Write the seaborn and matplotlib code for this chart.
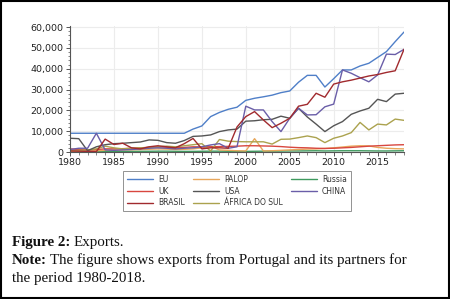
import numpy as np
import pandas as pd
import matplotlib
matplotlib.use("Agg")
import matplotlib.pyplot as plt
import seaborn as sns
from matplotlib.lines import Line2D
from matplotlib.patches import Rectangle
from matplotlib.ticker import MultipleLocator, FuncFormatter

years = list(range(1980, 2019))

EU = [9000, 9000, 9000, 9000, 9000, 9000, 9000, 9000, 9000, 9000, 9000, 9000, 9000, 9000,
      11000, 12500, 17000, 19000, 20500, 21500, 24800, 25800, 26500, 27300, 28500,
      29300, 33500, 36800, 36800, 31200, 35200, 39400, 39400, 41300, 42600,
      45400, 48200, 53000, 57600]
PALOP = [300, 400, 500, 600, 800, 900, 1000, 1100, 1200, 1300, 1500, 1400, 1200, 1300,
         1500, 2000, 2800, 1000, 800, 600, 500, 6400, 500, 600, 800, 1000, 1200, 1400,
         1500, 1700, 2000, 2400, 2800, 3000, 2900, 2200, 1800, 1600, 1500]
RUSSIA = [200, 200, 250, 250, 300, 300, 300, 350, 350, 350, 400, 400, 350, 300, 300,
          350, 400, 400, 350, 300, 300, 350, 400, 400, 450, 500, 500, 550, 600, 500,
          550, 600, 600, 600, 550, 500, 500, 550, 600]
UK = [1500, 1200, 1000, 1200, 1500, 1500, 1600, 1800, 2000, 2200, 2500, 2300, 2000, 2200,
      2500, 2400, 2500, 2600, 2700, 2800, 3000, 3000, 2900, 2800, 2600, 2300, 2100, 2000,
      1800, 1700, 1800, 2000, 2200, 2500, 2800, 3000, 3200, 3400, 3500]
USA = [6600, 6400, 600, 2500, 3500, 4000, 4200, 4500, 4800, 5800, 5600, 4500, 4200, 5500,
       7500, 7700, 8200, 9800, 10600, 11000, 14800, 15000, 15500, 15700, 17200, 16200,
       21000, 16800, 13400, 9800, 12600, 14600, 18100, 19700, 21000, 25300, 24200,
       27800, 28200]
CHINA = [1200, 1800, 1800, 9000, 1000, 800, 1000, 1200, 1500, 1800, 2000, 1800, 1500,
         1800, 2000, 2500, 3400, 4000, 1800, 2500, 22000, 20200, 20200, 14600, 9800,
         16200, 21000, 17800, 17900, 21700, 23000, 39400, 37800, 35700, 33700, 37000,
         47000, 46800, 49300]
BRASIL = [500, 400, 300, 200, 6200, 3600, 4200, 2000, 1500, 2500, 3000, 2500, 2000, 4000,
          6500, 1500, 2000, 2000, 1800, 12000, 17000, 19400, 15400, 11700, 13800, 16200,
          22000, 22900, 28200, 26300, 32600, 33700, 34500, 35500, 36500, 37200, 38200,
          39000, 49300]
AFRICA = [500, 800, 1000, 1500, 2800, 2000, 1500, 1800, 2000, 2200, 2500, 2800, 2500,
          3000, 3500, 4000, 500, 6000, 5200, 5000, 4900, 4900, 4900, 3800, 6100, 6200,
          6900, 7700, 6900, 4500, 6600, 7700, 9300, 14200, 10600, 13400, 13000, 15800,
          15200]

series = {
    "EU": EU, "PALOP": PALOP, "Russia": RUSSIA, "UK": UK, "USA": USA,
    "CHINA": CHINA, "BRASIL": BRASIL, "ÁFRICA DO SUL": AFRICA,
}
colors = {
    "EU": "#4f7fc8", "PALOP": "#e8a75c", "Russia": "#3f9a5f", "UK": "#d8473f",
    "USA": "#555555", "CHINA": "#6a5ea8", "BRASIL": "#a12a2e", "ÁFRICA DO SUL": "#aba24e",
}

df = pd.DataFrame([(y, name, v) for name, vals in series.items() for y, v in zip(years, vals)],
                  columns=["year", "partner", "value"])

sns.set_theme(style="white")
plt.rcParams["font.family"] = ["DejaVu Sans"]

fig = plt.figure(figsize=(4.5, 2.99), dpi=100)
ax = fig.add_axes([70 / 450, 147 / 299, 334 / 450, 126 / 299])

draw_order = ["Russia", "PALOP", "UK", "ÁFRICA DO SUL", "USA", "EU", "CHINA", "BRASIL"]
sns.lineplot(data=df, x="year", y="value", hue="partner", hue_order=draw_order,
             palette=colors, linewidth=1.0, legend=False, ax=ax)

ax.set_xlim(1980, 2018)
ax.set_ylim(0, 60500)
ax.set_xlabel("")
ax.set_ylabel("")
ax.xaxis.set_major_locator(MultipleLocator(5))
ax.xaxis.set_minor_locator(MultipleLocator(1))
ax.yaxis.set_major_locator(MultipleLocator(10000))
ax.yaxis.set_minor_locator(MultipleLocator(2000))
ax.yaxis.set_major_formatter(FuncFormatter(lambda v, p: f"{int(v):,}"))
ax.grid(True, which="major", color="#ececec", linewidth=0.8)
for s in ["top", "right"]:
    ax.spines[s].set_visible(False)
for s in ["left", "bottom"]:
    ax.spines[s].set_color("#555555")
    ax.spines[s].set_linewidth(0.8)
ax.tick_params(axis="both", which="major", direction="out", length=3, width=0.7,
               color="#555555", labelsize=6.8, labelcolor="#222222", pad=1.5,
               bottom=True, left=True)
ax.tick_params(axis="both", which="minor", direction="out", length=1.8, width=0.5,
               color="#555555", bottom=True, left=True)

legend_order = ["EU", "UK", "BRASIL", "PALOP", "USA", "ÁFRICA DO SUL", "Russia", "CHINA"]
handles = [Line2D([0], [0], color=colors[n], lw=1.0) for n in legend_order]
leg = fig.legend(handles, legend_order, ncol=3, loc="center",
                 bbox_to_anchor=(237 / 450, (299 - 191) / 299), bbox_transform=fig.transFigure,
                 fontsize=5.5, frameon=True, fancybox=False, edgecolor="#777777",
                 handlelength=3.4, columnspacing=1.0, labelspacing=0.35,
                 borderpad=0.5, handletextpad=0.7)
leg.get_frame().set_linewidth(0.7)
for t in leg.get_texts():
    t.set_color("#333333")

# caption
serif = ["Liberation Serif", "DejaVu Serif"]
fig.canvas.draw()
renderer = fig.canvas.get_renderer()
CAP = 10.8

def rich_line(x, y, bold, rest, size=CAP):
    t1 = fig.text(x, y, bold, fontsize=size, fontweight="bold", family=serif,
                  va="baseline", ha="left", color="#111111")
    bb = t1.get_window_extent(renderer=renderer)
    x2 = (bb.x1 + 3) / fig.bbox.width
    fig.text(x2, y, rest, fontsize=size, family=serif, va="baseline", ha="left",
             color="#111111")

rich_line(12 / 450, (299 - 246) / 299, "Figure 2:", "Exports.")
rich_line(12 / 450, (299 - 264) / 299, "Note:",
          "The figure shows exports from Portugal and its partners for")
fig.text(12 / 450, (299 - 282) / 299, "the period 1980-2018.", fontsize=CAP, family=serif,
         va="baseline", ha="left", color="#111111")

fig.patches.append(Rectangle((0.002, 0.003), 0.996, 0.994, transform=fig.transFigure,
                             fill=False, edgecolor="black", linewidth=1.5))

fig.savefig("out.png", dpi=100)
